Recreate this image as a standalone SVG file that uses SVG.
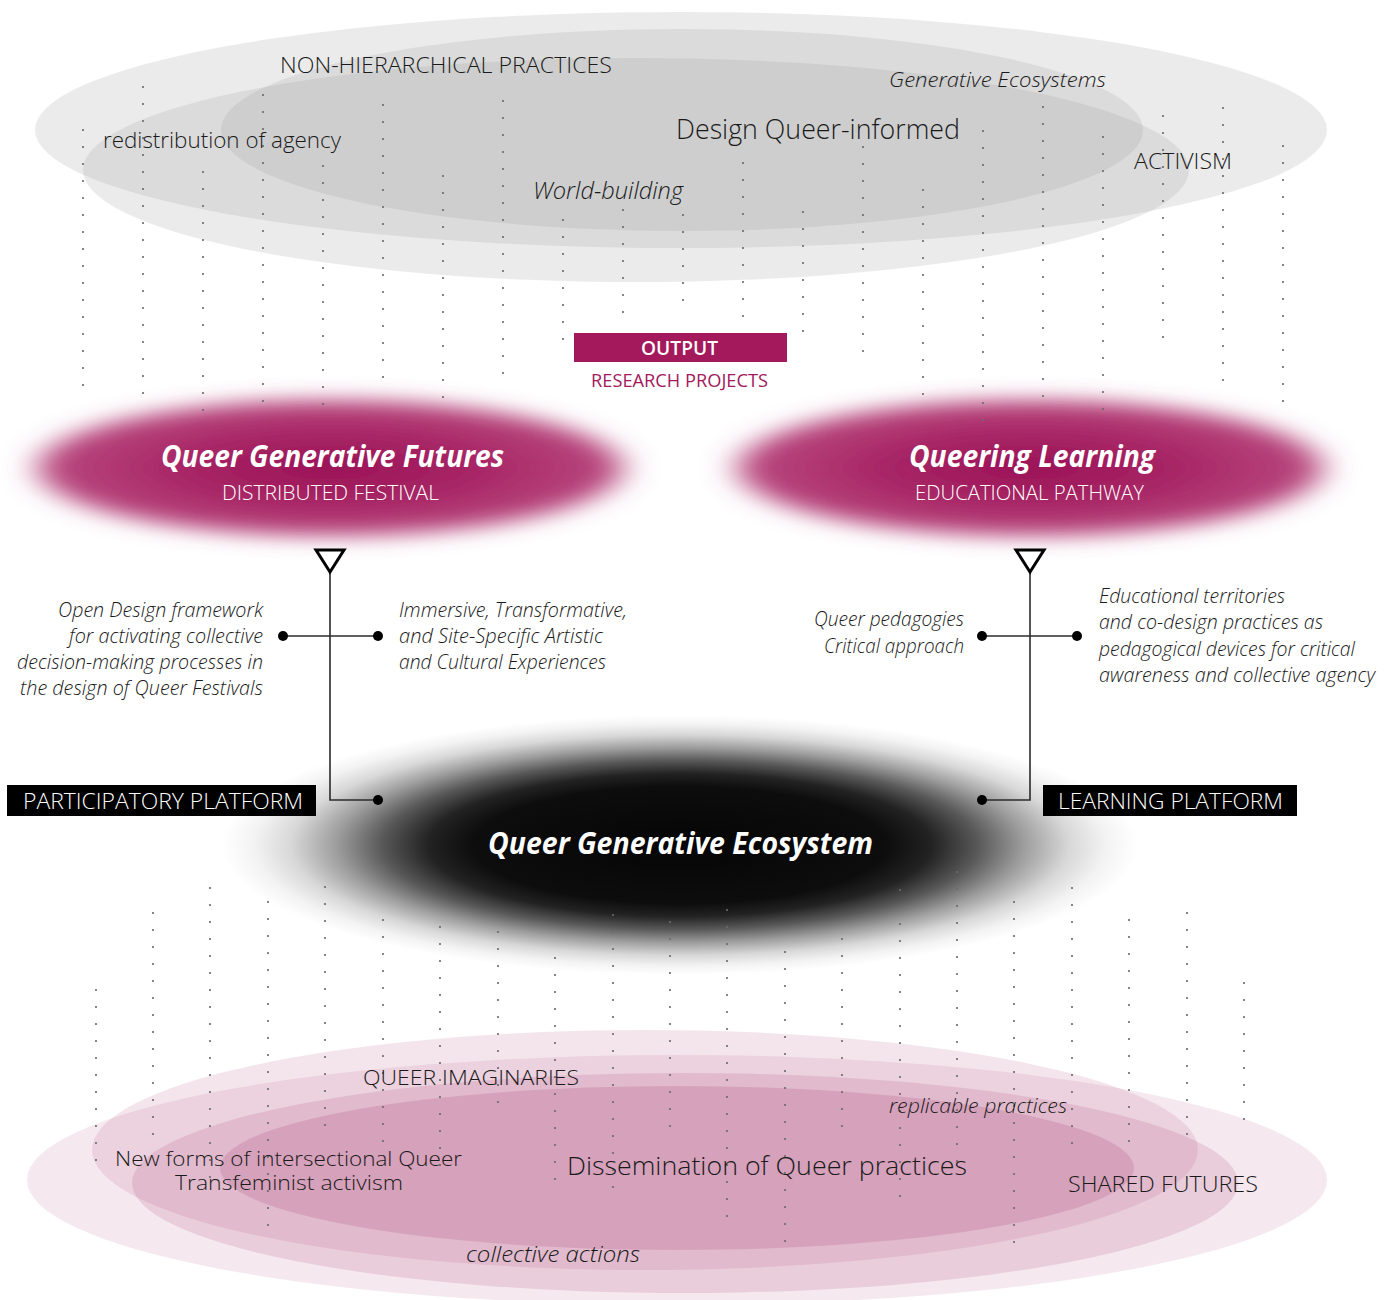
<svg xmlns="http://www.w3.org/2000/svg" width="1394" height="1300" viewBox="0 0 1394 1300">
<style>
text{font-family:"Open Sans","Liberation Sans",sans-serif;fill:#1a1a1a;font-weight:350;}
.it{font-style:italic;}
.w{fill:#ffffff;}
.bi{font-style:italic;font-weight:700;fill:#ffffff;}
.grey{fill:#999999;fill-opacity:0.2;}
.pk{fill:#b04a7a;}
.dots line{stroke:#6b6b6b;stroke-width:2.2;stroke-linecap:round;stroke-dasharray:0 17;}
.conn{stroke:#2b2b2b;stroke-width:1.6;fill:none;}
.dot{fill:#000000;}
.tri{fill:#ffffff;stroke:#000000;stroke-width:3;stroke-linejoin:miter;}
</style>
<defs>
<radialGradient id="mag" cx="0.5" cy="0.5" r="0.5">
<stop offset="0" stop-color="#9a1256"/>
<stop offset="0.5" stop-color="#a72565"/>
<stop offset="1" stop-color="#b9497f"/>
</radialGradient>
<filter id="blurM" x="-25%" y="-70%" width="150%" height="240%">
<feGaussianBlur stdDeviation="17 10"/>
</filter>
<radialGradient id="blk" cx="0.5" cy="0.5" r="0.5">
<stop offset="0" stop-color="#050505" stop-opacity="1"/>
<stop offset="0.45" stop-color="#080808" stop-opacity="0.98"/>
<stop offset="0.55" stop-color="#0a0a0a" stop-opacity="0.9"/>
<stop offset="0.65" stop-color="#0a0a0a" stop-opacity="0.68"/>
<stop offset="0.75" stop-color="#0a0a0a" stop-opacity="0.4"/>
<stop offset="0.85" stop-color="#0a0a0a" stop-opacity="0.16"/>
<stop offset="0.93" stop-color="#0a0a0a" stop-opacity="0.05"/>
<stop offset="1" stop-color="#0a0a0a" stop-opacity="0"/>
</radialGradient>
</defs>
<rect width="1394" height="1300" fill="#ffffff"/>

<g id="top-field">
<ellipse class="grey" cx="681" cy="130" rx="646" ry="118"/>
<ellipse class="grey" cx="636" cy="170" rx="553" ry="112"/>
<ellipse class="grey" cx="682" cy="130" rx="461" ry="101"/>
</g>

<g id="bottom-field">
<ellipse class="pk" fill-opacity="0.14" cx="645" cy="1150" rx="553" ry="120"/>
<ellipse class="pk" fill-opacity="0.12" cx="677" cy="1180" rx="650" ry="125"/>
<ellipse class="pk" fill-opacity="0.17" cx="685" cy="1183" rx="553" ry="110"/>
<ellipse class="pk" fill-opacity="0.22" cx="677" cy="1168" rx="457" ry="82"/>
</g>

<g id="node-qgf">
<ellipse cx="330" cy="468" rx="292" ry="68" fill="url(#mag)" filter="url(#blurM)"/>
</g>
<g id="node-ql">
<ellipse cx="1030" cy="468" rx="292" ry="68" fill="url(#mag)" filter="url(#blurM)"/>
</g>
<g id="node-ecosystem">
<ellipse cx="680" cy="845" rx="458" ry="130" fill="url(#blk)"/>
</g>

<g class="dots" id="dots-top">
<line x1="83" y1="130" x2="83" y2="402"/>
<line x1="143" y1="87" x2="143" y2="410"/>
<line x1="203" y1="172" x2="203" y2="427"/>
<line x1="263" y1="95" x2="263" y2="418"/>
<line x1="323" y1="166" x2="323" y2="421"/>
<line x1="383" y1="105" x2="383" y2="394"/>
<line x1="443" y1="176" x2="443" y2="414"/>
<line x1="503" y1="101" x2="503" y2="390"/>
<line x1="563" y1="220" x2="563" y2="356"/>
<line x1="623" y1="210" x2="623" y2="329"/>
<line x1="683" y1="215" x2="683" y2="317"/>
<line x1="743" y1="163" x2="743" y2="333"/>
<line x1="803" y1="212" x2="803" y2="348"/>
<line x1="863" y1="147" x2="863" y2="368"/>
<line x1="923" y1="190" x2="923" y2="411"/>
<line x1="983" y1="131" x2="983" y2="437"/>
<line x1="1043" y1="107" x2="1043" y2="413"/>
<line x1="1103" y1="137" x2="1103" y2="426"/>
<line x1="1163" y1="116" x2="1163" y2="354"/>
<line x1="1223" y1="108" x2="1223" y2="397"/>
<line x1="1283" y1="146" x2="1283" y2="418"/>
</g>

<g class="dots" id="dots-bottom">
<line x1="96" y1="990" x2="96" y2="1177"/>
<line x1="153" y1="913" x2="153" y2="1151"/>
<line x1="210" y1="888" x2="210" y2="1194"/>
<line x1="268" y1="902" x2="268" y2="1242"/>
<line x1="325" y1="887" x2="325" y2="1142"/>
<line x1="383" y1="920" x2="383" y2="1158"/>
<line x1="440" y1="927" x2="440" y2="1182"/>
<line x1="498" y1="915" x2="498" y2="1119"/>
<line x1="555" y1="958" x2="555" y2="1196"/>
<line x1="613" y1="915" x2="613" y2="1204"/>
<line x1="670" y1="922" x2="670" y2="1143"/>
<line x1="727" y1="910" x2="727" y2="1233"/>
<line x1="785" y1="952" x2="785" y2="1258"/>
<line x1="842" y1="939" x2="842" y2="1143"/>
<line x1="900" y1="890" x2="900" y2="1213"/>
<line x1="957" y1="872" x2="957" y2="1178"/>
<line x1="1014" y1="902" x2="1014" y2="1259"/>
<line x1="1072" y1="888" x2="1072" y2="1160"/>
<line x1="1129" y1="920" x2="1129" y2="1158"/>
<line x1="1187" y1="913" x2="1187" y2="1151"/>
<line x1="1244" y1="983" x2="1244" y2="1136"/>
</g>

<g id="connectors">
<polyline class="conn" points="330,573 330,800 378,800"/>
<line class="conn" x1="283" y1="636" x2="378" y2="636"/>
<circle class="dot" cx="283" cy="636" r="5"/>
<circle class="dot" cx="378" cy="636" r="5"/>
<circle class="dot" cx="378" cy="800" r="5"/>
<polygon class="tri" points="316,550 344,550 330,572"/>
<polyline class="conn" points="1030,573 1030,800 982,800"/>
<line class="conn" x1="982" y1="636" x2="1077" y2="636"/>
<circle class="dot" cx="982" cy="636" r="5"/>
<circle class="dot" cx="1077" cy="636" r="5"/>
<circle class="dot" cx="982" cy="800" r="5"/>
<polygon class="tri" points="1016,550 1044,550 1030,572"/>
</g>

<g id="top-labels">
<text x="280" y="73" font-size="22" textLength="332" lengthAdjust="spacingAndGlyphs">NON-HIERARCHICAL PRACTICES</text>
<text x="103" y="148" font-size="22" textLength="238" lengthAdjust="spacingAndGlyphs">redistribution of agency</text>
<text x="676" y="139" font-size="28" textLength="284" lengthAdjust="spacingAndGlyphs">Design Queer-informed</text>
<text class="it" x="533" y="199" font-size="23" textLength="150" lengthAdjust="spacingAndGlyphs">World-building</text>
<text class="it" x="889" y="87" font-size="21" textLength="217" lengthAdjust="spacingAndGlyphs">Generative Ecosystems</text>
<text x="1134" y="169" font-size="22" textLength="98" lengthAdjust="spacingAndGlyphs">ACTIVISM</text>
</g>

<g id="node-output">
<rect x="574" y="333" width="213" height="29" fill="#a3195b"/>
<text class="w" x="641" y="355" font-size="19.5" style="font-weight:600" textLength="77" lengthAdjust="spacingAndGlyphs">OUTPUT</text>
<text x="591" y="387" font-size="18.5" style="fill:#a3195b;font-weight:400" textLength="177" lengthAdjust="spacingAndGlyphs">RESEARCH PROJECTS</text>
</g>

<g id="node-qgf-label">
<text class="bi" x="161" y="467" font-size="30" textLength="343" lengthAdjust="spacingAndGlyphs">Queer Generative Futures</text>
<text class="w" x="222" y="500" font-size="20.5" textLength="217" lengthAdjust="spacingAndGlyphs">DISTRIBUTED FESTIVAL</text>
</g>
<g id="node-ql-label">
<text class="bi" x="909" y="467" font-size="30" textLength="246" lengthAdjust="spacingAndGlyphs">Queering Learning</text>
<text class="w" x="915" y="500" font-size="20.5" textLength="229" lengthAdjust="spacingAndGlyphs">EDUCATIONAL PATHWAY</text>
</g>

<g id="qgf-notes">
<text class="it" x="263" y="617" font-size="19.5" text-anchor="end" textLength="205" lengthAdjust="spacingAndGlyphs">Open Design framework</text>
<text class="it" x="263" y="643" font-size="19.5" text-anchor="end" textLength="194" lengthAdjust="spacingAndGlyphs">for activating collective</text>
<text class="it" x="263" y="669" font-size="19.5" text-anchor="end" textLength="246" lengthAdjust="spacingAndGlyphs">decision-making processes in</text>
<text class="it" x="263" y="695" font-size="19.5" text-anchor="end" textLength="243" lengthAdjust="spacingAndGlyphs">the design of Queer Festivals</text>
<text class="it" x="399" y="617" font-size="19.5" textLength="228" lengthAdjust="spacingAndGlyphs">Immersive, Transformative,</text>
<text class="it" x="399" y="643" font-size="19.5" textLength="204" lengthAdjust="spacingAndGlyphs">and Site-Specific Artistic</text>
<text class="it" x="399" y="669" font-size="19.5" textLength="207" lengthAdjust="spacingAndGlyphs">and Cultural Experiences</text>
</g>

<g id="ql-notes">
<text class="it" x="964" y="626" font-size="19.5" text-anchor="end" textLength="150" lengthAdjust="spacingAndGlyphs">Queer pedagogies</text>
<text class="it" x="964" y="653" font-size="19.5" text-anchor="end" textLength="140" lengthAdjust="spacingAndGlyphs">Critical approach</text>
<text class="it" x="1099" y="603" font-size="19.5" textLength="186" lengthAdjust="spacingAndGlyphs">Educational territories</text>
<text class="it" x="1099" y="629" font-size="19.5" textLength="224" lengthAdjust="spacingAndGlyphs">and co-design practices as</text>
<text class="it" x="1099" y="656" font-size="19.5" textLength="256" lengthAdjust="spacingAndGlyphs">pedagogical devices for critical</text>
<text class="it" x="1099" y="682" font-size="19.5" textLength="276" lengthAdjust="spacingAndGlyphs">awareness and collective agency</text>
</g>

<g id="node-participatory">
<rect x="7" y="785" width="309" height="31" fill="#000000"/>
<text class="w" x="23" y="809" font-size="22" textLength="280" lengthAdjust="spacingAndGlyphs">PARTICIPATORY PLATFORM</text>
</g>
<g id="node-learning">
<rect x="1043" y="785" width="254" height="31" fill="#000000"/>
<text class="w" x="1058" y="809" font-size="22" textLength="225" lengthAdjust="spacingAndGlyphs">LEARNING PLATFORM</text>
</g>

<g id="node-ecosystem-label">
<text class="bi" x="488" y="854" font-size="30" textLength="385" lengthAdjust="spacingAndGlyphs">Queer Generative Ecosystem</text>
</g>

<g id="bottom-labels">
<text x="363" y="1085" font-size="21" textLength="216" lengthAdjust="spacingAndGlyphs">QUEER IMAGINARIES</text>
<text x="115" y="1166" font-size="21" textLength="347" lengthAdjust="spacingAndGlyphs">New forms of intersectional Queer</text>
<text x="175" y="1190" font-size="21" textLength="228" lengthAdjust="spacingAndGlyphs">Transfeminist activism</text>
<text x="567" y="1175" font-size="26" textLength="400" lengthAdjust="spacingAndGlyphs">Dissemination of Queer practices</text>
<text class="it" x="466" y="1262" font-size="22" textLength="174" lengthAdjust="spacingAndGlyphs">collective actions</text>
<text class="it" x="889" y="1113" font-size="21" textLength="178" lengthAdjust="spacingAndGlyphs">replicable practices</text>
<text x="1068" y="1192" font-size="22" textLength="190" lengthAdjust="spacingAndGlyphs">SHARED FUTURES</text>
</g>
</svg>
